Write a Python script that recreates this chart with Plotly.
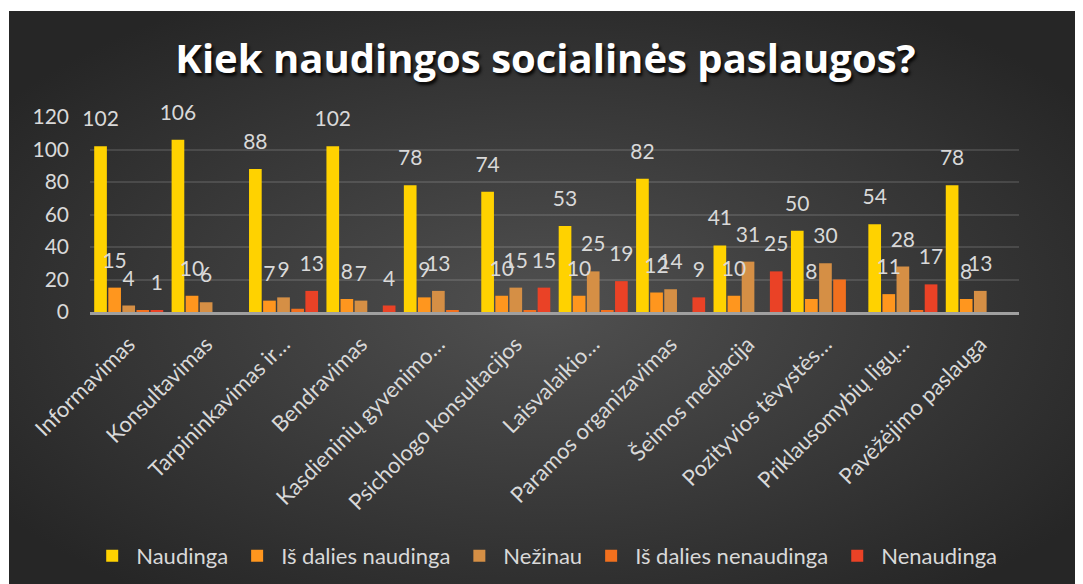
import base64
import plotly.graph_objects as go

categories = ["Informavimas", "Konsultavimas", "Tarpininkavimas ir…", "Bendravimas",
              "Kasdieninių gyvenimo…", "Psichologo konsultacijos", "Laisvalaikio…",
              "Paramos organizavimas", "Šeimos mediacija", "Pozityvios tėvystės…",
              "Priklausomybių ligų…", "Pavėžėjimo paslauga"]

naudinga = [102, 106, 88, 102, 78, 74, 53, 82, 41, 50, 54, 78]
is_dalies_naudinga = [15, 10, 7, 8, 9, 10, 10, 12, 10, 8, 11, 8]
nezinau = [4, 6, 9, 7, 13, 15, 25, 14, 31, 30, 28, 13]
is_dalies_nenaudinga = [1, None, 2, None, 1, 1, 1, None, None, 20, 1, None]
nenaudinga = [1, None, 13, 4, None, 15, 19, 9, 25, None, 17, None]

series = [
    ("Naudinga", naudinga, "#FFD200", True),
    ("Iš dalies naudinga", is_dalies_naudinga, "#FF961E", True),
    ("Nežinau", nezinau, "#D58F45", True),
    ("Iš dalies nenaudinga", is_dalies_nenaudinga, "#F2701E", False),
    ("Nenaudinga", nenaudinga, "#EA4226", True),
]

txt = "#D9D9D9"
font = "Lato"

fig = go.Figure()
for name, vals, col, lab in series:
    fig.add_trace(go.Bar(x=categories, y=vals, name=name, marker_color=col,
                         marker_line_width=0))
# data labels, lifted above the bars by an invisible marker
for name, vals, col, lab in series:
    fig.add_trace(go.Scatter(
        x=categories, y=vals, mode="markers+text" if lab else "markers",
        text=[None if v is None else str(v) for v in vals],
        textposition="top center",
        textfont=dict(family=font, size=21, color=txt),
        marker=dict(size=22, color="rgba(0,0,0,0)"),
        showlegend=False, hoverinfo="skip", cliponaxis=False))

# the page has an 8px body margin, so the figure is 8px smaller than the window
W, H = 1075, 576
# radial gradient background for the dark chart area
svg = ('<svg xmlns="http://www.w3.org/2000/svg" width="1074" height="573" '
       'viewBox="0 0 1074 573" preserveAspectRatio="none"><defs>'
       '<radialGradient id="g" cx="50%" cy="52%" r="62%">'
       '<stop offset="0" stop-color="#505050"/><stop offset="1" stop-color="#262626"/>'
       '</radialGradient></defs><rect width="1074" height="573" fill="url(#g)"/></svg>')
bg = "data:image/svg+xml;base64," + base64.b64encode(svg.encode()).decode()

L, R, T, B = 82, 64, 109, 272
pw, ph = W - L - R, H - T - B

fig.update_layout(
    width=W, height=H,
    margin=dict(l=L, r=R, t=T, b=B, autoexpand=False),
    paper_bgcolor="white", plot_bgcolor="rgba(0,0,0,0)",
    barmode="group", bargap=0.09, bargroupgap=0.1,
    scattermode="group", scattergap=0.09,
    font=dict(family=font, color=txt),
    title=dict(text="<b>Kiek naudingos socialinės paslaugos?</b>",
               x=0.5, xanchor="center", y=0.912, yanchor="middle",
               font=dict(family="Open Sans", size=40, color="white",
                         shadow="2px 3px 3px rgba(0,0,0,0.85)")),
    legend=dict(orientation="h", x=0.49, xanchor="center", y=(T + ph - 548) / ph,
                yanchor="middle", font=dict(family=font, size=22, color=txt),
                bgcolor="rgba(0,0,0,0)", itemwidth=38, tracegroupgap=0),
    images=[dict(source=bg, xref="paper", yref="paper",
                 x=(1 - L) / pw, y=(T + ph - 3) / ph,
                 sizex=(W - 1) / pw, sizey=(H - 3) / ph,
                 sizing="stretch", xanchor="left", yanchor="top", layer="below")],
)
fig.update_yaxes(range=[0, 120], dtick=20, showgrid=True,
                 gridcolor="rgba(255,255,255,0.12)", gridwidth=1.5,
                 zeroline=False, tickfont=dict(family=font, size=21, color=txt),
                 ticklabelstandoff=20)
fig.update_xaxes(showline=True, linecolor="#A0A0A0", linewidth=2.5,
                 tickangle=-45, tickfont=dict(family=font, size=22, color=txt),
                 ticklabelstandoff=8)

fig.write_html("out.html")
